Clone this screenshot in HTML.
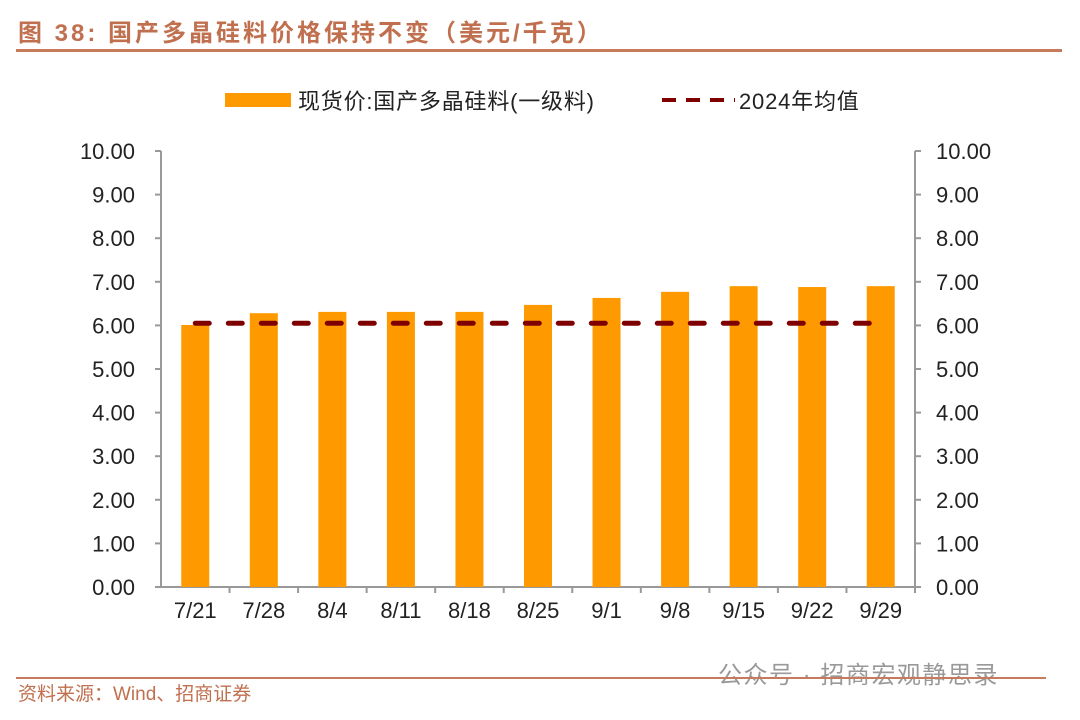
<!DOCTYPE html>
<html><head><meta charset="utf-8"><style>
body{margin:0;background:#fff;width:1080px;height:715px;overflow:hidden;font-family:"Liberation Sans","Noto Sans CJK SC",sans-serif;}
</style></head><body>
<svg width="1080" height="715" xmlns="http://www.w3.org/2000/svg">
<text x="18" y="41" font-size="24" fill="#c0704f" font-weight="bold" letter-spacing="3" font-family="Liberation Sans,Noto Sans CJK SC,sans-serif">图 38:  国产多晶硅料价格保持不变（美元/千克）</text>
<rect x="16" y="49" width="1046" height="3" fill="#c77a5c"/>
<g>
<rect x="225" y="93" width="66" height="14" fill="#ff9900"/>
<text x="298" y="109" font-size="22" letter-spacing="0.8" fill="#222">现货价:国产多晶硅料(一级料)</text>
<line x1="662" y1="100" x2="735" y2="100" stroke="#7f0000" stroke-width="4" stroke-dasharray="14,10"/>
<text x="739" y="109" font-size="22" letter-spacing="0.8" fill="#222">2024年均值</text>
</g>
<g id="axes"></g>
<g id="marks"></g>
<text x="18" y="700" font-size="19" fill="#c0704f">资料来源：Wind、招商证券</text>
<text x="718" y="683" font-size="24" letter-spacing="1.5" fill="#999">公众号 · 招商宏观静思录</text>
<rect x="16" y="677" width="1030" height="2" fill="#c77a5c"/>
</svg>
<script>
const categories=["7/21","7/28","8/4","8/11","8/18","8/25","9/1","9/8","9/15","9/22","9/29"];
const prices=[6.01,6.28,6.31,6.31,6.31,6.47,6.63,6.77,6.90,6.88,6.90];
const avg2024=[6.05];
const yTicks=["0.00","1.00","2.00","3.00","4.00","5.00","6.00","7.00","8.00","9.00","10.00"];
const NS="http://www.w3.org/2000/svg";
const x0=161,x1=915,y0=587,y1=151,ymax=10;
const bw=(x1-x0)/categories.length;
function y(v){return y0-(v/ymax)*(y0-y1);}
function xc(i){return x0+bw*(i+0.5);}
function mk(t,a,p){const e=document.createElementNS(NS,t);for(const k in a)e.setAttribute(k,a[k]);p.appendChild(e);return e;}
const ax=document.getElementById('axes'),mg=document.getElementById('marks');
let e=mk('line',{x1:x0,y1:y1,x2:x0,y2:y0,stroke:'#999','stroke-width':2},ax);


e=mk('line',{x1:x1,y1:y1,x2:x1,y2:y0,stroke:'#999','stroke-width':2},ax);


e=mk('line',{x1:x0,y1:y0,x2:x1,y2:y0,stroke:'#999','stroke-width':2},ax);


yTicks.forEach((t,i)=>{const v=parseFloat(t),yy=y(v);
 mk('line',{x1:x0-6,y1:yy,x2:x0,y2:yy,stroke:'#999','stroke-width':2},ax);
 mk('line',{x1:x1,y1:yy,x2:x1+6,y2:yy,stroke:'#999','stroke-width':2},ax);
 let a=mk('text',{x:x0-26,y:yy+8,'font-size':22,'text-anchor':'end',fill:'#222'},ax);a.textContent=t;
 
 
 let b=mk('text',{x:x1+21,y:yy+8,'font-size':22,fill:'#222'},ax);b.textContent=t;
 
 
});
categories.forEach((c,i)=>{
 mk('line',{x1:x0+bw*(i+1),y1:y0,x2:x0+bw*(i+1),y2:y0+6,stroke:'#999','stroke-width':2},ax);
 let t=mk('text',{x:xc(i),y:y0+31,'font-size':22,'text-anchor':'middle',fill:'#222'},ax);t.textContent=c;
 
 
 let r=mk('rect',{x:xc(i)-14,y:y(prices[i]),width:28,height:y0-y(prices[i]),fill:'#ff9900'},mg);
 
 
});
let l=mk('line',{x1:xc(0),y1:y(avg2024[0]),x2:xc(categories.length-1)-8,y2:y(avg2024[0]),stroke:'#7f0000','stroke-width':5,'stroke-linecap':'round','stroke-dasharray':'14,19'},mg);


</script>
</body></html>
